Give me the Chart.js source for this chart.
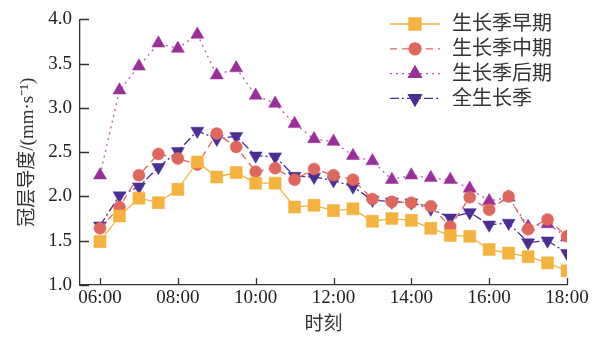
<!DOCTYPE html>
<html>
<head>
<meta charset="utf-8">
<script src="https://cdn.jsdelivr.net/npm/chart.js@4.4.1/dist/chart.umd.min.js"></script>
<style>
  html, body { margin: 0; padding: 0; background: #fff; }
  #wrap { width: 603px; height: 340px; }
</style>
</head>
<body>
<div id="wrap"><canvas id="chart"></canvas></div>
<script>
// ===== Data =====
const times = ['06:00','06:30','07:00','07:30','08:00','08:30','09:00','09:30','10:00','10:30',
  '11:00','11:30','12:00','12:30','13:00','13:30','14:00','14:30','15:00','15:30',
  '16:00','16:30','17:00','17:30','18:00'];
const seriesNames = ['生长季早期', '生长季中期', '生长季后期', '全生长季'];
const earlySeason = [1.49,1.78,1.98,1.93,2.08,2.39,2.22,2.27,2.15,2.15,1.88,1.90,1.84,1.86,1.72,1.75,1.73,1.64,1.56,1.55,1.40,1.36,1.32,1.25,1.16];
const midSeason   = [1.64,1.88,2.24,2.48,2.43,2.36,2.71,2.56,2.28,2.32,2.19,2.31,2.24,2.19,1.97,1.94,1.93,1.89,1.66,1.99,1.85,2.00,1.63,1.74,1.55];
const lateSeason  = [2.24,3.20,3.47,3.73,3.67,3.83,3.37,3.45,3.14,3.05,2.82,2.65,2.62,2.46,2.40,2.19,2.24,2.21,2.19,2.09,1.95,1.99,1.66,1.69,1.54];
const wholeSeason = [1.67,2.01,2.11,2.33,2.51,2.74,2.65,2.68,2.46,2.45,2.23,2.22,2.18,2.11,1.96,1.94,1.93,1.86,1.76,1.82,1.68,1.70,1.48,1.50,1.36];
const xTickHours = [6, 8, 10, 12, 14, 16, 18];
const yTicks = [1.0, 1.5, 2.0, 2.5, 3.0, 3.5, 4.0];

// ===== Helpers =====
const toHours = t => { const [h, m] = t.split(':').map(Number); return h + m / 60; };
const pts = vals => vals.map((v, i) => ({ x: toHours(times[i]), y: v }));

const axisColor = '#333';
const serif = '"Liberation Serif", "Times New Roman", serif';
const mixed = '"Liberation Serif", "Noto Sans CJK SC", serif'; // latin serif, CJK fallback

const styles = [
  { color: '#F4B23E', line: '#F4B23E', dash: [],           point: 'rect',     radius: 8.5, rotation: 0 },
  { color: '#E0675E', line: '#E0675E', dash: [7, 5],       point: 'circle',   radius: 6,   rotation: 0 },
  { color: '#9A2F99', line: '#B45DBA', dash: [2, 4],       point: 'triangle', radius: 7.5, rotation: 0 },
  { color: '#4A2E93', line: '#4A2E93', dash: [9, 3, 2, 3], point: 'triangle', radius: 7.5, rotation: 180 }
];
const allSeries = [earlySeason, midSeason, lateSeason, wholeSeason];

const datasets = allSeries.map((vals, i) => ({
  label: seriesNames[i],
  data: pts(vals),
  borderColor: styles[i].line,
  borderWidth: 1.3,
  borderDash: styles[i].dash,
  pointStyle: styles[i].point,
  pointRotation: styles[i].rotation,
  pointRadius: styles[i].radius,
  pointBackgroundColor: styles[i].color,
  pointBorderColor: styles[i].color,
  pointBorderWidth: 0.5,
  tension: 0,
  fill: false
}));

// ===== Inner tick marks + legend drawn on top =====
const innerTicks = {
  id: 'innerTicks',
  afterDraw(chart) {
    const { ctx, scales: { x, y }, chartArea: a } = chart;
    ctx.save();
    ctx.strokeStyle = axisColor;
    ctx.lineWidth = 1.3;
    ctx.beginPath();
    xTickHours.forEach(h => {
      const px = Math.round(x.getPixelForValue(h)) + 0.5;
      ctx.moveTo(px, a.bottom);
      ctx.lineTo(px, a.bottom - 7);
    });
    yTicks.forEach(v => {
      const py = Math.round(y.getPixelForValue(v)) + 0.5;
      ctx.moveTo(a.left, py);
      ctx.lineTo(a.left + 9, py);
    });
    ctx.stroke();
    ctx.restore();
  }
};

const lineLegend = {
  id: 'lineLegend',
  afterDraw(chart) {
    const { ctx } = chart;
    ctx.save();
    seriesNames.forEach((name, i) => {
      const s = styles[i];
      const yy = 24 + i * 24.8;
      ctx.strokeStyle = s.line;
      ctx.lineWidth = 1.3;
      ctx.setLineDash(s.dash);
      ctx.beginPath();
      ctx.moveTo(390, yy);
      ctx.lineTo(440, yy);
      ctx.stroke();
      ctx.setLineDash([]);
      ctx.fillStyle = s.color;
      ctx.strokeStyle = s.color;
      Chart.helpers.drawPoint(ctx, {
        pointStyle: s.point, radius: s.radius, rotation: s.rotation, borderWidth: 0.5
      }, 415, yy);
      ctx.fillStyle = '#333';
      ctx.font = '20px ' + mixed;
      ctx.textBaseline = 'middle';
      ctx.fillText(name, 452, yy + 1);
    });
    ctx.restore();
  }
};

new Chart(document.getElementById('chart'), {
  type: 'line',
  data: { datasets },
  options: {
    responsive: true,
    maintainAspectRatio: false,
    animation: false,
    layout: { padding: { top: 15, right: 36, bottom: 0, left: 0 } },
    plugins: { legend: { display: false }, tooltip: { enabled: false } },
    scales: {
      x: {
        type: 'linear',
        min: 6 - 20 / 38.9,
        max: 18,
        afterBuildTicks: scale => { scale.ticks = xTickHours.map(v => ({ value: v })); },
        afterFit: scale => { scale.height = 55; },
        ticks: {
          color: '#222',
          font: { family: serif, size: 19 },
          padding: 2,
          maxRotation: 0,
          autoSkip: false,
          callback: v => String(v).padStart(2, '0') + ':00'
        },
        grid: { display: false, drawTicks: false },
        border: { display: true, color: axisColor, width: 1.3 },
        title: {
          display: true,
          text: '时刻',
          color: '#333',
          font: { family: mixed, size: 19 },
          padding: { top: 4, bottom: 4 }
        }
      },
      y: {
        min: 1,
        max: 4,
        afterBuildTicks: scale => { scale.ticks = yTicks.map(v => ({ value: v })); },
        afterFit: scale => { scale.width = 80; },
        ticks: {
          color: '#222',
          font: { family: serif, size: 19 },
          padding: 8,
          callback: v => Number(v).toFixed(1)
        },
        grid: { display: false, drawTicks: false },
        border: { display: true, color: axisColor, width: 1.3 },
        title: {
          display: true,
          text: '冠层导度/(mm·s⁻¹)',
          color: '#333',
          font: { family: mixed, size: 19 },
          padding: { top: 17, bottom: 0 }
        }
      }
    }
  },
  plugins: [innerTicks, lineLegend]
});
</script>
</body>
</html>
